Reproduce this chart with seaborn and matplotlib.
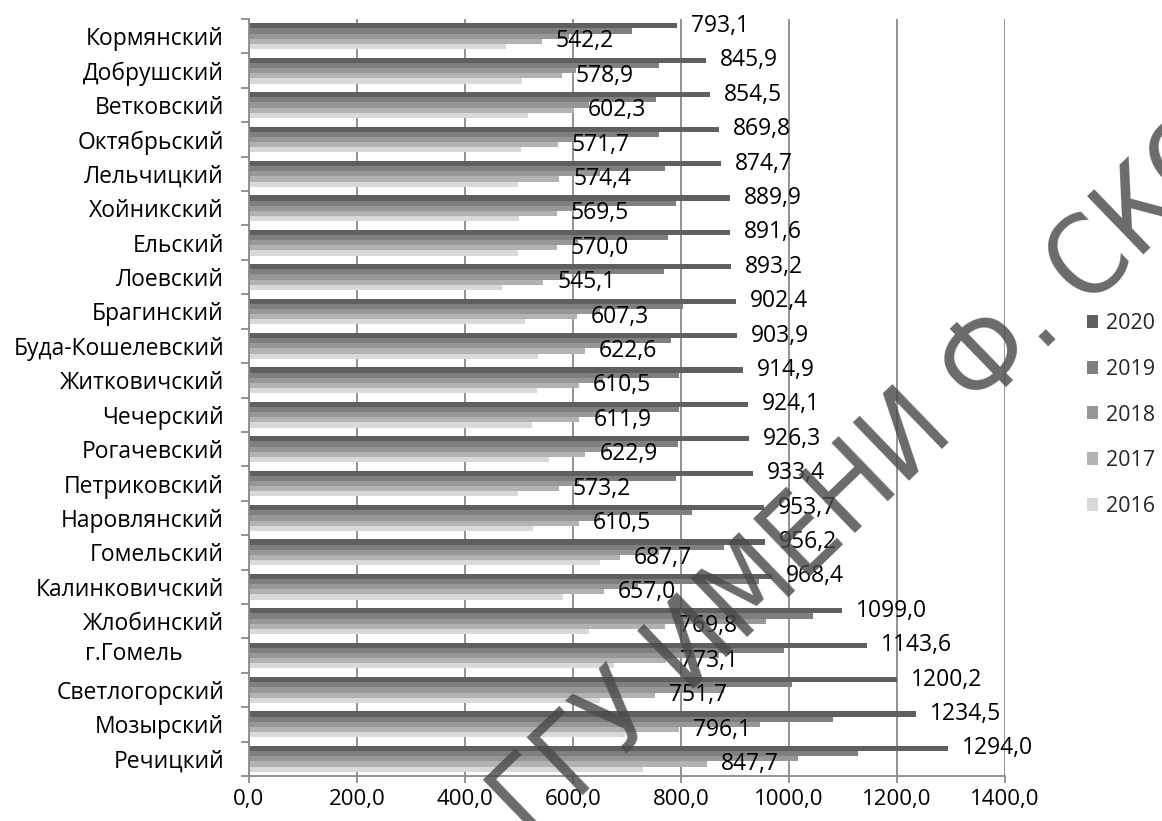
import matplotlib
matplotlib.use("Agg")
import matplotlib.pyplot as plt
import matplotlib.transforms as mtransforms
from matplotlib.ticker import FuncFormatter, FixedLocator
import seaborn as sns
import pandas as pd
import numpy as np

districts = ['Кормянский', 'Добрушский', 'Ветковский', 'Октябрьский', 'Лельчицкий',
             'Хойникский', 'Ельский', 'Лоевский', 'Брагинский', 'Буда-Кошелевский',
             'Житковичский', 'Чечерский', 'Рогачевский', 'Петриковский', 'Наровлянский',
             'Гомельский', 'Калинковичский', 'Жлобинский', 'г.Гомель', 'Светлогорский',
             'Мозырский', 'Речицкий']
years = ['2020', '2019', '2018', '2017', '2016']

v2020 = [793.1, 845.9, 854.5, 869.8, 874.7, 889.9, 891.6, 893.2, 902.4, 903.9, 914.9,
         924.1, 926.3, 933.4, 953.7, 956.2, 968.4, 1099.0, 1143.6, 1200.2, 1234.5, 1294.0]
v2019 = [710, 759, 754, 759, 770, 790, 775, 768, 803, 781, 796,
         796, 795, 791, 821, 880, 945, 1044, 990, 1006, 1081, 1127]
v2018 = [593, 605, 630, 602, 650, 605, 610, 585, 650, 660, 655,
         650, 665, 612, 650, 760, 720, 958, 870, 880, 946, 1017]
v2017 = [542.2, 578.9, 602.3, 571.7, 574.4, 569.5, 570.0, 545.1, 607.3, 622.6, 610.5,
         611.9, 622.9, 573.2, 610.5, 687.7, 657.0, 769.8, 773.1, 751.7, 796.1, 847.7]
v2016 = [476, 505, 516, 503, 498, 500, 498, 468, 511, 536, 534,
         524, 556, 498, 526, 650, 582, 630, 675, 650, 697, 730]

xticks = [0, 200, 400, 600, 800, 1000, 1200, 1400]
colors = ['#5f5f5f', '#7f7f7f', '#979797', '#b2b2b2', '#d9d9d9']
labelled = ['2020', '2017']

series = {'2020': v2020, '2019': v2019, '2018': v2018, '2017': v2017, '2016': v2016}
rows = []
for yr in years:
    for d, v in zip(districts, series[yr]):
        rows.append({'district': d, 'year': yr, 'value': v})
df = pd.DataFrame(rows)

sns.set_theme(style='white')
plt.rcParams['font.family'] = ['Open Sans', 'DejaVu Sans']
FS = 16.5

fig = plt.figure(figsize=(11.62, 8.21), dpi=100)
top_px, bot_px = 19.0, 776.0
ax = fig.add_axes([249 / 1162, 1 - bot_px / 821, (1005 - 249) / 1162, (bot_px - top_px) / 821])

sns.barplot(data=df, y='district', x='value', hue='year', order=districts,
            hue_order=years, palette=colors, orient='h', width=0.75, gap=0,
            saturation=1, linewidth=0, ax=ax, legend=True)

ax.set_xlim(0, 1400)
ax.set_ylim(len(districts) - 0.5, -0.5)
ax.set_xlabel('')
ax.set_ylabel('')
ax.xaxis.set_major_locator(FixedLocator(xticks))
ax.xaxis.set_major_formatter(FuncFormatter(lambda v, p: f"{v:.1f}".replace('.', ',')))
ax.grid(axis='x', color='#8a8a8a', linewidth=1.3)
ax.grid(axis='y', visible=False)
ax.set_axisbelow(True)
for s in ['top', 'right']:
    ax.spines[s].set_visible(False)
for s in ['left', 'bottom']:
    ax.spines[s].set_color('#8a8a8a')
    ax.spines[s].set_linewidth(1.3)

ax.tick_params(axis='x', which='major', length=5, width=1.3, color='#8a8a8a',
               labelsize=16, labelcolor='black', pad=4, bottom=True)
ax.tick_params(axis='y', which='major', length=0, labelsize=FS, labelcolor='black', pad=18)
ax.yaxis.set_minor_locator(FixedLocator(np.arange(-0.5, len(districts), 1.0)))
ax.tick_params(axis='y', which='minor', length=6, width=1.3, color='#8a8a8a', left=True)

for lbl in ax.get_yticklabels():
    if lbl.get_text() == 'г.Гомель':
        lbl.set_transform(lbl.get_transform() +
                          mtransforms.ScaledTranslation(-0.41, 0.05, fig.dpi_scale_trans))

# data labels for labelled series
for cont, yr in zip(ax.containers, years):
    if yr in labelled:
        ax.bar_label(cont, labels=[f"{v:.1f}".replace('.', ',') for v in series[yr]],
                     padding=10, fontsize=FS, color='black')

leg = ax.legend(loc='center left', bbox_to_anchor=(1078 / 1162, 1 - 415 / 821),
                bbox_transform=fig.transFigure, frameon=False, fontsize=15.5,
                handlelength=0.55, handleheight=0.55, handletextpad=0.35,
                labelspacing=1.15, borderaxespad=0)

# watermark
fig.text(975 / 1162, 1 - 375 / 821, 'ГГУ ИМЕНИ Ф. СКОРИНЫ', rotation=44,
         rotation_mode='anchor', ha='center', va='center', fontsize=80,
         fontstretch='condensed', color='#4a4a4a', alpha=0.82,
         family=['DejaVu Sans'], zorder=10)

fig.savefig('out.png', dpi=100)
